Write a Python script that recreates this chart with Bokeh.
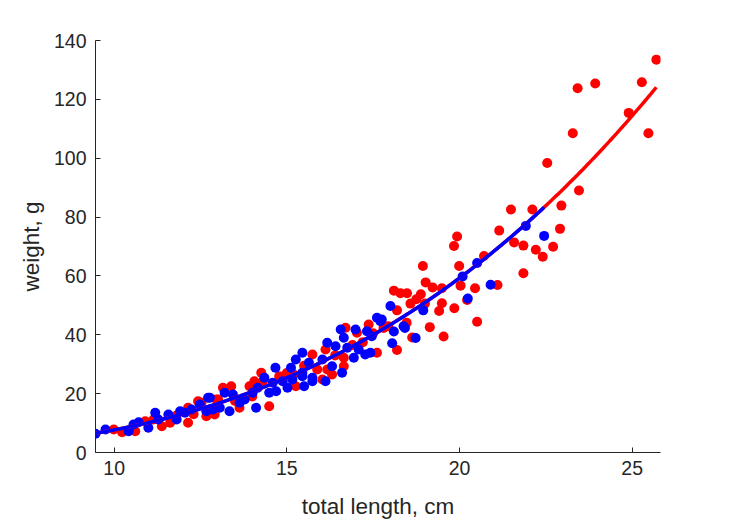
import numpy as np
from bokeh.plotting import figure
from bokeh.models import Range1d, FixedTicker
from bokeh.embed import file_html
from bokeh.resources import INLINE

# ---- data ----
red_x = [25.70, 25.28, 23.93, 23.42, 24.90, 23.28, 25.47, 22.54, 23.46, 22.95, 22.91,
         21.49, 22.11, 21.15, 21.58, 21.85, 22.21, 22.71, 22.41, 21.85, 21.10,
         19.93, 19.84, 18.94, 19.99, 20.71, 19.02, 19.22, 19.49, 20.03, 20.45, 18.10, 18.29,
         18.48, 18.88, 18.75, 18.58, 19.00, 19.49, 20.22, 18.19, 19.41, 19.85, 20.51, 19.14,
         19.54, 18.63, 17.80, 18.19,
         17.37, 17.94, 18.47, 16.70, 17.03, 16.12, 17.61, 16.65, 15.74, 16.65, 16.31, 15.88, 16.03,
         14.26, 14.78, 15.26, 13.92, 14.49, 13.39, 13.15, 13.63, 13.01, 12.53, 12.91, 16.17, 14.06,
         9.99, 10.23, 10.61, 10.90, 11.14, 11.38, 11.62, 12.14, 12.14, 12.43, 12.67, 12.96,
         15.00, 15.50, 16.40, 17.20, 14.00, 13.50, 11.80, 12.30, 14.30, 15.20, 16.90, 17.50]
red_y = [133.5, 125.8, 125.4, 123.8, 115.4, 108.5, 108.5, 98.4, 89.0, 83.9, 76.0,
         82.6, 82.6, 75.4, 71.4, 70.3, 68.9, 69.9, 66.5, 60.9, 56.9,
         73.4, 70.2, 63.4, 63.4, 66.8, 57.8, 56.1, 55.8, 56.7, 55.8, 55.0, 54.1,
         54.1, 53.8, 52.1, 50.6, 50.6, 50.7, 51.8, 48.3, 48.1, 49.0, 44.4, 42.6,
         39.4, 39.1, 42.3, 34.8,
         43.5, 42.9, 44.1, 42.4, 40.7, 35.0, 33.9, 32.2, 33.3, 29.3, 26.5, 28.2, 24.8,
         27.1, 25.9, 22.5, 22.5, 15.7, 22.5, 22.0, 15.2, 18.0, 16.9, 12.9, 28.2, 24.2,
         7.8, 6.9, 7.2, 10.6, 11.2, 8.9, 10.1, 15.2, 10.1, 17.4, 12.3, 18.0,
         27.0, 29.5, 33.0, 37.5, 19.0, 17.5, 12.5, 13.0, 24.0, 26.5, 36.5, 40.5]

blue_x = [20.51, 20.09, 20.90, 21.92, 22.45, 20.24, 18.00, 18.95, 18.73, 18.42, 18.10, 17.71, 18.05,
          17.61, 17.75, 18.38, 16.56, 16.99, 17.32, 17.46, 16.17, 16.65, 16.41, 16.75, 17.08, 17.42,
          16.94, 17.27, 15.45, 15.26, 15.64, 16.03, 16.31, 16.60, 15.12, 15.45, 15.74, 16.12, 15.16, 15.50,
          14.67, 14.35, 14.88, 14.59, 14.49, 14.69, 15.02, 14.16, 14.01, 13.78, 14.11, 13.20, 13.44,
          13.63, 12.77, 13.06, 12.67, 13.34, 15.74, 15.45,
          9.46, 9.75, 10.42, 10.56, 10.71, 10.99, 11.19, 11.28, 11.57, 11.81, 11.91, 12.05, 12.24,
          12.48, 12.72, 12.86]
blue_y = [64.4, 59.8, 57.0, 77.0, 73.6, 52.3, 49.8, 48.3, 38.9, 42.3, 41.1, 44.6, 37.1,
          45.8, 45.2, 42.9, 41.8, 41.8, 41.2, 39.5, 37.3, 39.0, 36.1, 35.6, 35.0, 33.9,
          32.2, 33.3, 33.9, 31.6, 30.5, 31.6, 29.3, 27.1, 28.8, 27.1, 25.4, 24.2, 24.8, 22.5,
          28.8, 25.4, 24.2, 23.7, 20.3, 20.8, 22.0, 22.0, 20.3, 18.0, 15.2, 20.3, 19.7,
          16.9, 18.6, 15.2, 14.0, 14.0, 24.2, 25.9,
          6.35, 7.8, 7.2, 9.5, 10.3, 8.4, 13.5, 11.2, 12.9, 11.2, 14.0, 13.5, 14.6,
          16.3, 18.6, 14.6]

x_ticks = [10, 15, 20, 25]
y_ticks = [0, 20, 40, 60, 80, 100, 120, 140]

RED = "#FF0000"
BLUE = "#0000FF"
TXT = "#262626"

# single length-weight power law W = a * L^b fitted on all fish (weighted log-space fit)
all_x = np.array(red_x + blue_x)
all_y = np.array(red_y + blue_y)
b_exp, log_a = np.polyfit(np.log(all_x), np.log(all_y), 1, w=np.sqrt(all_y))

x_lo = all_x.min()
rfx = np.linspace(x_lo, max(red_x), 200)
bfx = np.linspace(x_lo, max(blue_x), 200)
rfy = np.exp(log_a) * rfx ** b_exp
bfy = np.exp(log_a) * bfx ** b_exp

p = figure(width=729, height=521, output_backend="svg", toolbar_location=None,
           x_range=Range1d(9.46, 25.82), y_range=Range1d(0, 140),
           min_border_left=95, min_border_right=69, min_border_top=40, min_border_bottom=68)
p.outline_line_color = None
p.grid.visible = False
p.background_fill_color = "white"
p.border_fill_color = "white"

p.scatter(red_x, red_y, size=10, color=RED, line_color=None)
p.scatter(blue_x, blue_y, size=10, color=BLUE, line_color=None)
p.line(rfx, rfy, line_width=3.5, color=RED)
p.line(bfx, bfy, line_width=3.5, color=BLUE)

for ax in (p.xaxis[0], p.yaxis[0]):
    ax.axis_line_color = TXT
    ax.axis_line_width = 1
    ax.major_tick_line_color = TXT
    ax.major_tick_in = 5
    ax.major_tick_out = 0
    ax.minor_tick_line_color = None
    ax.major_label_text_font = "Liberation Sans"
    ax.major_label_text_font_size = "19.5px"
    ax.major_label_text_color = TXT
    ax.axis_label_text_font = "Liberation Sans"
    ax.axis_label_text_font_size = "22.5px"
    ax.axis_label_text_font_style = "normal"
    ax.axis_label_text_color = TXT

p.xaxis.ticker = FixedTicker(ticks=x_ticks)
p.yaxis.ticker = FixedTicker(ticks=y_ticks)
p.xaxis.axis_label = "total length, cm"
p.yaxis.axis_label = "weight, g"
p.xaxis.major_label_standoff = 8
p.yaxis.major_label_standoff = 9
p.xaxis.axis_label_standoff = 16
p.yaxis.axis_label_standoff = 7

open("out.html", "w").write(file_html(p, INLINE))
